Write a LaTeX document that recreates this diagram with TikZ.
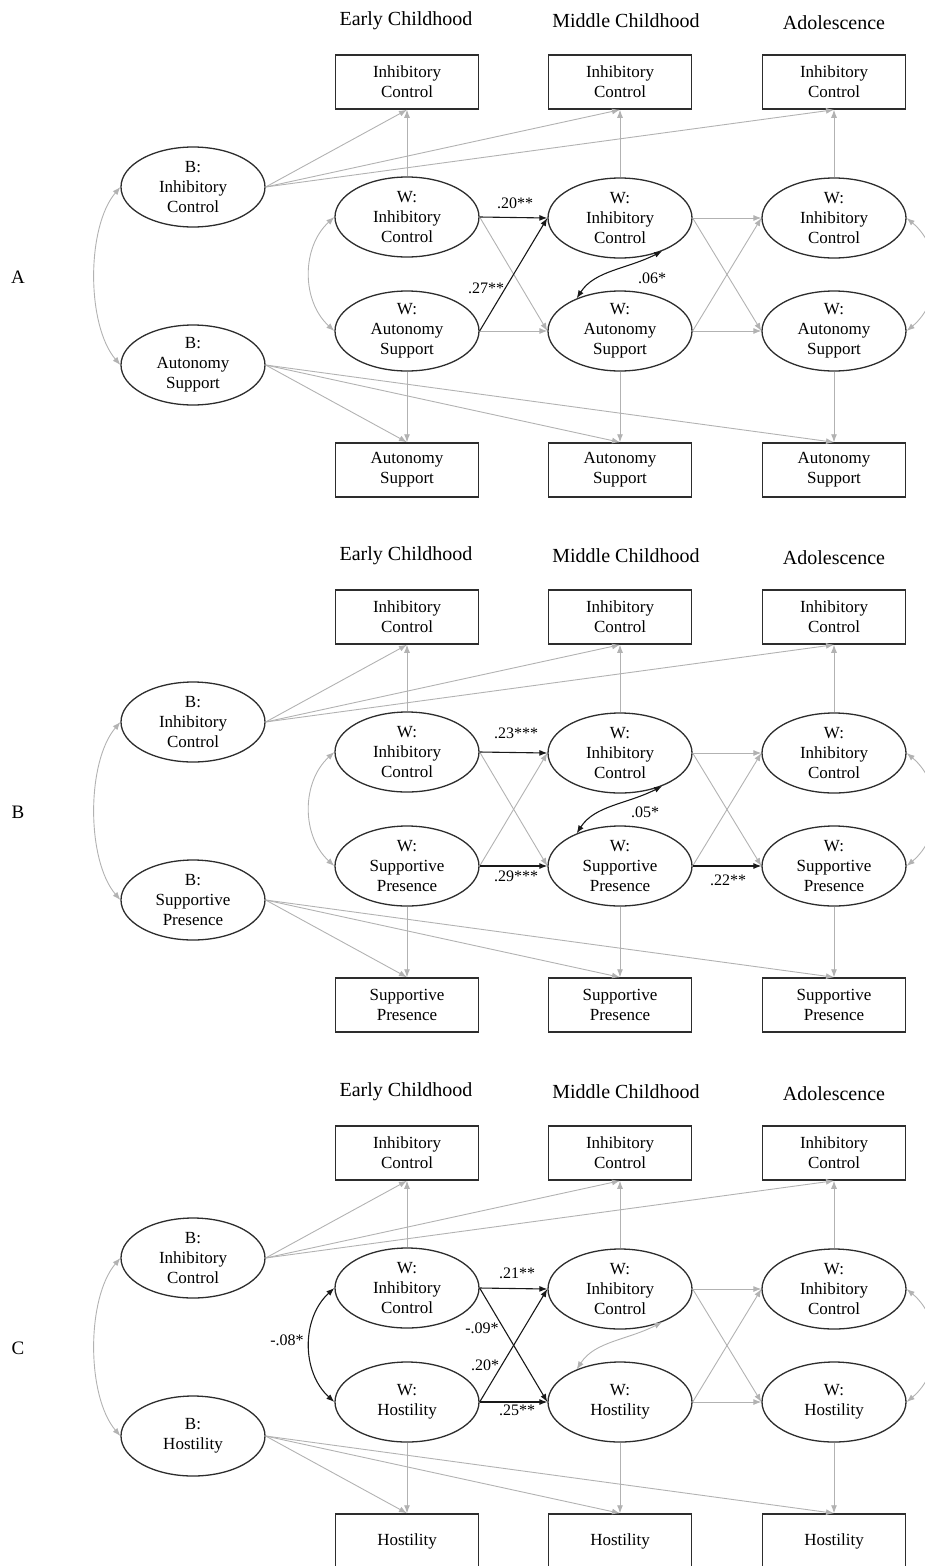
\documentclass[tikz,border=0pt]{standalone}
\usepackage{fontspec}
\setmainfont{Liberation Serif}
\usetikzlibrary{arrows.meta,shapes.geometric}
\definecolor{lg}{RGB}{178,178,178}
\definecolor{dk}{RGB}{25,25,25}
\definecolor{bd}{RGB}{45,45,45}
\tikzset{
  lat/.style={ellipse, draw=bd, line width=1.3pt, minimum width=144pt, minimum height=80pt, inner sep=0pt, align=center, font=\fontsize{17}{20}\selectfont, fill=white},
  obs/.style={rectangle, draw=bd, line width=1.5pt, minimum width=143pt, minimum height=54pt, inner sep=0pt, align=center, font=\fontsize{17}{20}\selectfont, fill=white},
  hdr/.style={font=\fontsize{20}{24}\selectfont, inner sep=0pt},
  lett/.style={font=\fontsize{19}{22}\selectfont, inner sep=0pt},
  coef/.style={font=\fontsize{16}{18}\selectfont, inner sep=0pt},
  tip/.style={Latex[length=8pt,width=6pt]},
  gp/.style={draw=lg, line width=0.9pt, -{Latex[length=8pt,width=6pt]}},
  bp/.style={draw=dk, line width=1.1pt, -{Latex[length=8pt,width=6pt]}},
  gc/.style={draw=lg, line width=0.9pt, {Latex[length=8pt,width=6pt]}-{Latex[length=8pt,width=6pt]}},
  bc/.style={draw=dk, line width=1.1pt, {Latex[length=8pt,width=6pt]}-{Latex[length=8pt,width=6pt]}}
}
% #1 prefix, #2 shift, #3 letter, #4 B text, #5 W text, #6 box text
\newcommand{\drawpanel}[6]{%
\begin{scope}[yshift=-#2pt]
  \node[hdr] (#1h1) at (406,21) {Early Childhood};
  \node[hdr] (#1h2) at (626,21) {Middle Childhood};
  \node[hdr] (#1h3) at (834,23) {Adolescence};
  \node[lett] (#1L) at (18,277) {#3};
  \node[obs] (#1T1) at (407,82) {Inhibitory\\Control};
  \node[obs] (#1T2) at (620,82) {Inhibitory\\Control};
  \node[obs] (#1T3) at (834,82) {Inhibitory\\Control};
  \node[obs] (#1D1) at (407,470) {#6};
  \node[obs] (#1D2) at (620,470) {#6};
  \node[obs] (#1D3) at (834,470) {#6};
  \node[lat] (#1Bi) at (193,187) {B:\\Inhibitory\\Control};
  \node[lat] (#1Bs) at (193,365) {B:\\#4};
  \node[lat] (#1Wi1) at (407,217) {W:\\Inhibitory\\Control};
  \node[lat] (#1Wi2) at (620,218) {W:\\Inhibitory\\Control};
  \node[lat] (#1Wi3) at (834,218) {W:\\Inhibitory\\Control};
  \node[lat] (#1Ws1) at (407,331) {W:\\#5};
  \node[lat] (#1Ws2) at (620,331) {W:\\#5};
  \node[lat] (#1Ws3) at (834,331) {W:\\#5};
  \draw[gp] (#1Bi.east) -- (#1T1.south);
  \draw[gp] (#1Bi.east) -- (#1T2.south);
  \draw[gp] (#1Bi.east) -- (#1T3.south);
  \draw[gp] (#1Bs.east) -- (#1D1.north);
  \draw[gp] (#1Bs.east) -- (#1D2.north);
  \draw[gp] (#1Bs.east) -- (#1D3.north);
  \draw[gp] (#1Wi1.north) -- (#1T1.south);
  \draw[gp] (#1Wi2.north) -- (#1T2.south);
  \draw[gp] (#1Wi3.north) -- (#1T3.south);
  \draw[gp] (#1Ws1.south) -- (#1D1.north);
  \draw[gp] (#1Ws2.south) -- (#1D2.north);
  \draw[gp] (#1Ws3.south) -- (#1D3.north);
  \draw[gc] (#1Bi.west) .. controls +(-34,40) and +(-34,-40) .. (#1Bs.west);
  \draw[gc] (#1Wi3.east) .. controls +(36,30) and +(36,-30) .. (#1Ws3.east);
  \draw[gp] (#1Wi2.east) -- (#1Wi3.west);
  \draw[gp] (#1Wi2.east) -- (#1Ws3.west);
  \draw[gp] (#1Ws2.east) -- (#1Wi3.west);
\end{scope}}
\begin{document}
\begin{tikzpicture}[x=1pt,y=-1pt]
\useasboundingbox (0,0) rectangle (925,1566);
% ---------- Panel A
\drawpanel{a}{0}{A}{Autonomy\\Support}{Autonomy\\Support}{Autonomy\\Support}
\draw[gp] (aWi1.east) -- (aWs2.west);
\draw[gp] (aWs1.east) -- (aWs2.west);
\draw[gp] (aWs2.east) -- (aWs3.west);
\draw[bp] (aWi1.east) -- (aWi2.west);
\draw[bp] (aWs1.east) -- (aWi2.west);
\draw[gc] (aWi1.west) .. controls +(-33,30) and +(-33,-30) .. (aWs1.west);
\draw[bc] (aWs2.143) .. controls +(18,-28) and +(-35,18) .. (aWi2.-38);
\node[coef] (aC1) at (515,203) {.20**};
\node[coef] (aC2) at (486,288) {.27**};
\node[coef] (aC3) at (652,278) {.06*};
% ---------- Panel B
\drawpanel{b}{535}{B}{Supportive\\Presence}{Supportive\\Presence}{Supportive\\Presence}
\begin{scope}[yshift=-535pt]
\draw[gp] (bWi1.east) -- (bWs2.west);
\draw[gp] (bWs1.east) -- (bWi2.west);
\draw[bp] (bWi1.east) -- (bWi2.west);
\draw[bp] (bWs1.east) -- (bWs2.west);
\draw[bp] (bWs2.east) -- (bWs3.west);
\draw[gc] (bWi1.west) .. controls +(-33,30) and +(-33,-30) .. (bWs1.west);
\draw[bc] (bWs2.143) .. controls +(18,-28) and +(-35,18) .. (bWi2.-38);
\node[coef] (bC1) at (516,198) {.23***};
\node[coef] (bC2) at (516,341) {.29***};
\node[coef] (bC3) at (645,277) {.05*};
\node[coef] (bC4) at (728,345) {.22**};
\end{scope}
% ---------- Panel C
\drawpanel{c}{1071}{C}{Hostility}{Hostility}{Hostility}
\begin{scope}[yshift=-1071pt]
\draw[bp] (cWi1.east) -- (cWi2.west);
\draw[bp] (cWi1.east) -- (cWs2.west);
\draw[bp] (cWs1.east) -- (cWi2.west);
\draw[bp] (cWs1.east) -- (cWs2.west);
\draw[gp] (cWs2.east) -- (cWs3.west);
\draw[bc] (cWi1.west) .. controls +(-33,30) and +(-33,-30) .. (cWs1.west);
\draw[gc] (cWs2.143) .. controls +(18,-28) and +(-35,18) .. (cWi2.-38);
\node[coef] (cC1) at (517,202) {.21**};
\node[coef] (cC2) at (482,257) {-.09*};
\node[coef] (cC3) at (485,294) {.20*};
\node[coef] (cC4) at (517,339) {.25**};
\node[coef] (cC5) at (287,269) {-.08*};
\end{scope}
\end{tikzpicture}
\end{document}
